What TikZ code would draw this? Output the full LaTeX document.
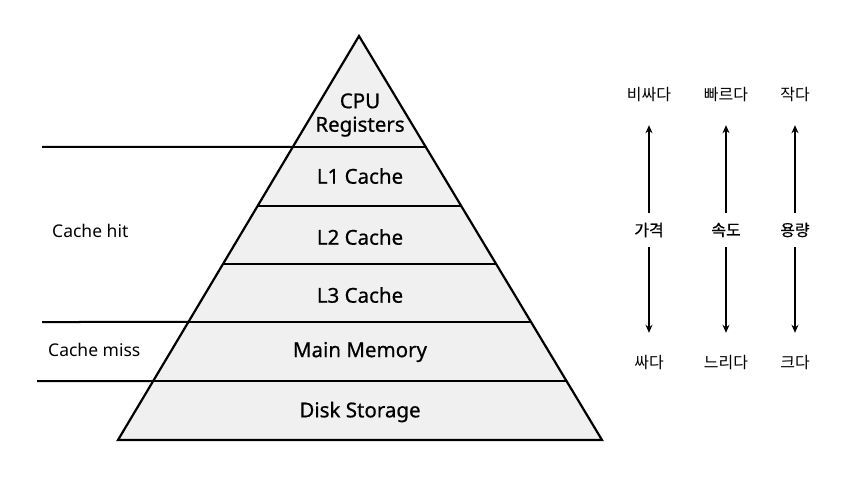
\documentclass[tikz,border=0pt]{standalone}
\usepackage{fontspec}
\setmainfont{Noto Sans}
\newfontfamily\layerfont[FakeBold=0.7]{Noto Sans}
\newfontfamily\kr{Noto Sans CJK KR}
\newfontfamily\krmid[FakeBold=0.7]{Noto Sans CJK KR}
\usepackage{tikz}
\usetikzlibrary{
  arrows.meta,
  calc
}
\definecolor{layerfill}{HTML}{F0F0F0}

\begin{document}
\begin{tikzpicture}[
    x=1pt, y=-1pt,
    layer/.style={
      font=\layerfont\fontsize{20.5}{23.5}\selectfont,
      align=center, inner sep=0pt
    },
    side/.style={font=\fontsize{17.5}{21}\selectfont, anchor=west, inner sep=0pt},
    axis/.style={font=\krmid\fontsize{16}{19}\selectfont, inner sep=0pt, minimum height=34pt},
    lvl/.style={font=\kr\fontsize{16}{19}\selectfont, inner sep=0pt, minimum height=60pt},
    sep/.style={line width=2pt},
    arr/.style={-{Stealth[length=8pt, width=7pt]}, line width=2pt},
  ]
    \useasboundingbox (0,0) rectangle (867,494);

    % pyramid
    \coordinate (apex) at (359,36);
    \coordinate (bl)   at (118,440);
    \coordinate (br)   at (602,440);
    \fill[layerfill] (apex) -- (bl) -- (br) -- cycle;

    \foreach \yy in {147,206,264,322,381}
      \draw[sep] ($(apex)!{(\yy-36)/404}!(bl)$) -- ($(apex)!{(\yy-36)/404}!(br)$);
    \draw[sep] (42,147) -- ($(apex)!{111/404}!(bl)$);
    \draw[sep] (42,322) -- ($(apex)!{286/404}!(bl)$);
    \draw[sep] (37,381) -- ($(apex)!{345/404}!(bl)$);

    \draw[line width=2.2pt] (apex) -- (bl) -- (br) -- cycle;

    \node[layer] (cpu)  at (360,115) {CPU\\Registers};
    \node[layer] (l1)   at (360,176) {L1 Cache};
    \node[layer] (l2)   at (360,237) {L2 Cache};
    \node[layer] (l3)   at (360,295) {L3 Cache};
    \node[layer] (mem)  at (360,352) {Main Memory};
    \node[layer] (disk) at (360,412) {Disk Storage};

    \node[side] (hit)  at (52,231) {Cache hit};
    \node[side] (miss) at (48,350) {Cache miss};

    % price / speed / size
    \node[lvl]  (pricehi) at (649,95)  {비싸다};
    \node[axis] (price)   at (649,230) {가격};
    \node[lvl]  (pricelo) at (649,363) {싸다};
    \node[lvl]  (speedhi) at (726,95)  {빠르다};
    \node[axis] (speed)   at (726,230) {속도};
    \node[lvl]  (speedlo) at (726,363) {느리다};
    \node[lvl]  (sizehi)  at (795,95)  {작다};
    \node[axis] (size)    at (795,230) {용량};
    \node[lvl]  (sizelo)  at (795,363) {크다};

    \draw[arr] (price) -- (pricehi);
    \draw[arr] (price) -- (pricelo);
    \draw[arr] (speed) -- (speedhi);
    \draw[arr] (speed) -- (speedlo);
    \draw[arr] (size)  -- (sizehi);
    \draw[arr] (size)  -- (sizelo);
  \end{tikzpicture}
\end{document}
